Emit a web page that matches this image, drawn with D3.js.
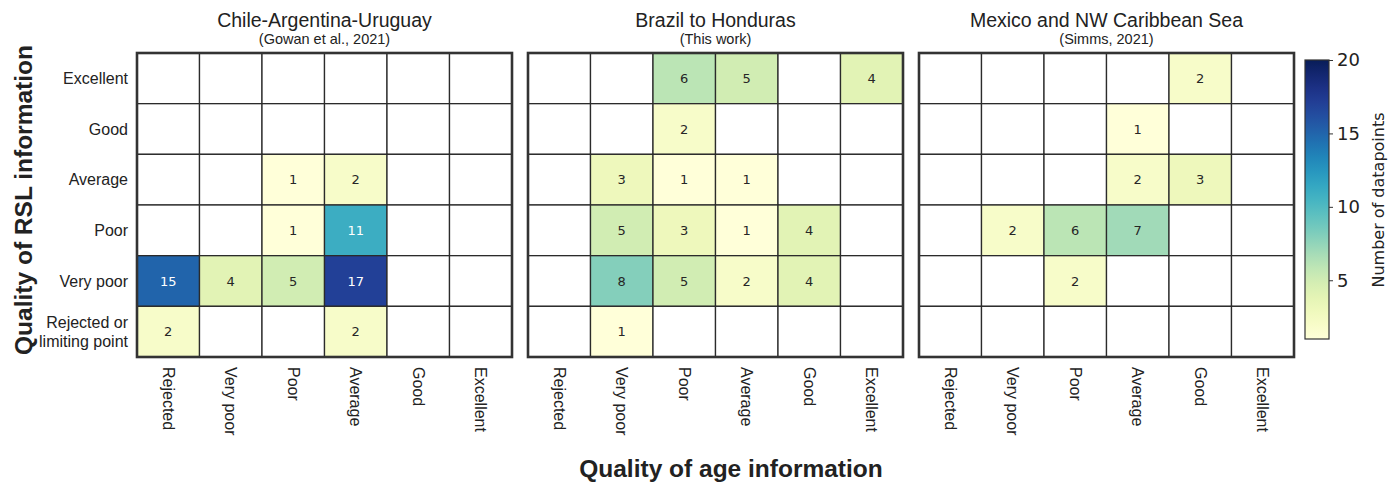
<!DOCTYPE html>
<html>
<head>
<meta charset="utf-8">
<script src="https://cdn.jsdelivr.net/npm/d3@7/dist/d3.min.js"></script>
<style>
  html, body { margin: 0; padding: 0; background: #fff; }
  svg { display: block; }
</style>
</head>
<body>
<svg id="chart" width="1399" height="486"></svg>
<script>
// ---- data ----
const ageCategories = ["Rejected", "Very poor", "Poor", "Average", "Good", "Excellent"];
const rslCategories = ["Excellent", "Good", "Average", "Poor", "Very poor", "Rejected or limiting point"];
const panelTitles = ["Chile-Argentina-Uruguay", "Brazil to Honduras", "Mexico and NW Caribbean Sea"];
const panelSubtitles = ["(Gowan et al., 2021)", "(This work)", "(Simms, 2021)"];
// rows follow rslCategories (top to bottom), columns follow ageCategories
const chileArgentinaUruguay = [
  [null, null, null, null, null, null],
  [null, null, null, null, null, null],
  [null, null, 1, 2, null, null],
  [null, null, 1, 11, null, null],
  [15, 4, 5, 17, null, null],
  [2, null, null, 2, null, null]
];
const brazilToHonduras = [
  [null, null, 6, 5, null, 4],
  [null, null, 2, null, null, null],
  [null, 3, 1, 1, null, null],
  [null, 5, 3, 1, 4, null],
  [null, 8, 5, 2, 4, null],
  [null, 1, null, null, null, null]
];
const mexicoCaribbean = [
  [null, null, null, null, 2, null],
  [null, null, null, 1, null, null],
  [null, null, null, 2, 3, null],
  [null, 2, 6, 7, null, null],
  [null, null, 2, null, null, null],
  [null, null, null, null, null, null]
];
const panelData = [chileArgentinaUruguay, brazilToHonduras, mexicoCaribbean];
const colorbarTicks = [5, 10, 15, 20];
const colorDomain = [1, 20];

// ---- layout ----
const svg = d3.select("#chart");
const panelLefts = [137, 528, 919];
const panelWidth = 375;
const gridTop = 53, gridBottom = 357;
const color = d3.scaleSequential(d3.interpolateYlGnBu).domain(colorDomain);

function luminance(c) {
  const rgb = d3.rgb(c);
  const f = v => { v /= 255; return v <= 0.03928 ? v / 12.92 : Math.pow((v + 0.055) / 1.055, 2.4); };
  return 0.2126 * f(rgb.r) + 0.7152 * f(rgb.g) + 0.0722 * f(rgb.b);
}

const armFont = "'Liberation Sans', Arial, sans-serif";
const djvFont = "'DejaVu Sans', sans-serif";

panelData.forEach((mat, p) => {
  const left = panelLefts[p];
  const x = d3.scaleBand().domain(ageCategories).range([left, left + panelWidth]);
  const y = d3.scaleBand().domain(rslCategories).range([gridTop, gridBottom]);
  const g = svg.append("g");

  const cells = [];
  mat.forEach((row, i) => row.forEach((v, j) => cells.push({ r: rslCategories[i], c: ageCategories[j], v })));

  g.selectAll("rect.cell").data(cells).join("rect")
    .attr("class", "cell")
    .attr("x", d => x(d.c)).attr("y", d => y(d.r))
    .attr("width", x.bandwidth()).attr("height", y.bandwidth())
    .attr("fill", d => d.v == null ? "#fff" : color(d.v))
    .attr("stroke", "#2b2b2b").attr("stroke-width", 1.3);

  g.selectAll("text.val").data(cells.filter(d => d.v != null)).join("text")
    .attr("class", "val")
    .attr("x", d => x(d.c) + x.bandwidth() / 2)
    .attr("y", d => y(d.r) + y.bandwidth() / 2)
    .attr("dy", "0.36em")
    .attr("text-anchor", "middle")
    .attr("font-family", djvFont).attr("font-size", 13)
    .attr("fill", d => luminance(color(d.v)) > 0.408 ? "#262626" : "#ffffff")
    .text(d => d.v);

  // frame
  g.append("rect")
    .attr("x", left).attr("y", gridTop).attr("width", panelWidth).attr("height", gridBottom - gridTop)
    .attr("fill", "none").attr("stroke", "#333").attr("stroke-width", 2.6);

  // titles
  g.append("text").attr("x", left + panelWidth / 2).attr("y", 27)
    .attr("text-anchor", "middle").attr("font-family", armFont).attr("font-size", 19.5)
    .attr("fill", "#222").text(panelTitles[p]);
  g.append("text").attr("x", left + panelWidth / 2).attr("y", 44)
    .attr("text-anchor", "middle").attr("font-family", armFont).attr("font-size", 14.5)
    .attr("fill", "#222").text(panelSubtitles[p]);

  // x tick labels
  const xAxis = d3.axisBottom(x).tickSize(0).tickPadding(0);
  const xa = g.append("g").attr("transform", `translate(0,${gridBottom})`).call(xAxis);
  xa.select(".domain").remove();
  xa.selectAll("text")
    .attr("font-family", armFont).attr("font-size", 16).attr("fill", "#222")
    .attr("text-anchor", "start")
    .attr("y", 0).attr("x", 0).attr("dy", "0.35em")
    .attr("transform", "translate(0,10) rotate(90)");

  // y tick labels (only first panel)
  if (p === 0) {
    const yAxis = d3.axisLeft(y).tickSize(0).tickPadding(0).tickFormat(() => "");
    const ya = g.append("g").attr("transform", `translate(${left - 9},0)`).call(yAxis);
    ya.select(".domain").remove();
    ya.selectAll(".tick").each(function (d) {
      const t = d3.select(this).select("text")
        .attr("font-family", armFont).attr("font-size", 16).attr("fill", "#222")
        .attr("text-anchor", "end").attr("x", 0).attr("dy", null);
      const lines = d === "Rejected or limiting point" ? ["Rejected or", "limiting point"] : [d];
      lines.forEach((ln, k) => {
        t.append("tspan").attr("x", 0)
          .attr("dy", lines.length === 1 ? "0.35em" : (k === 0 ? "-0.22em" : "1.15em"))
          .text(ln);
      });
    });
  }
});

// axis titles
svg.append("text")
  .attr("transform", `translate(32,200) rotate(-90)`)
  .attr("text-anchor", "middle").attr("font-family", armFont).attr("font-weight", "bold")
  .attr("font-size", 24.5).attr("fill", "#222").text("Quality of RSL information");
svg.append("text")
  .attr("x", 731).attr("y", 477)
  .attr("text-anchor", "middle").attr("font-family", armFont).attr("font-weight", "bold")
  .attr("font-size", 24.5).attr("fill", "#222").text("Quality of age information");

// colorbar
const cbX = 1305, cbW = 24, cbTop = 60, cbBottom = 339;
const cbScale = d3.scaleLinear().domain(colorDomain).range([cbBottom, cbTop]);
const defs = svg.append("defs");
const grad = defs.append("linearGradient").attr("id", "cbgrad")
  .attr("x1", 0).attr("y1", 1).attr("x2", 0).attr("y2", 0);
d3.range(0, 1.0001, 0.05).forEach(t => {
  grad.append("stop").attr("offset", t).attr("stop-color", d3.interpolateYlGnBu(t));
});
svg.append("rect").attr("x", cbX).attr("y", cbTop).attr("width", cbW).attr("height", cbBottom - cbTop)
  .attr("fill", "url(#cbgrad)").attr("stroke", "#333").attr("stroke-width", 1.2);
const cbAxis = d3.axisRight(cbScale).tickValues(colorbarTicks).tickSize(4).tickPadding(4);
const cba = svg.append("g").attr("transform", `translate(${cbX + cbW},0)`).call(cbAxis);
cba.select(".domain").remove();
cba.selectAll("line").attr("stroke", "#333");
cba.selectAll("text").attr("font-family", djvFont).attr("font-size", 18).attr("fill", "#222");
svg.append("text")
  .attr("transform", `translate(1384,200) rotate(-90)`)
  .attr("text-anchor", "middle").attr("font-family", djvFont).attr("font-size", 16)
  .attr("fill", "#222").text("Number of datapoints");
</script>
</body>
</html>
